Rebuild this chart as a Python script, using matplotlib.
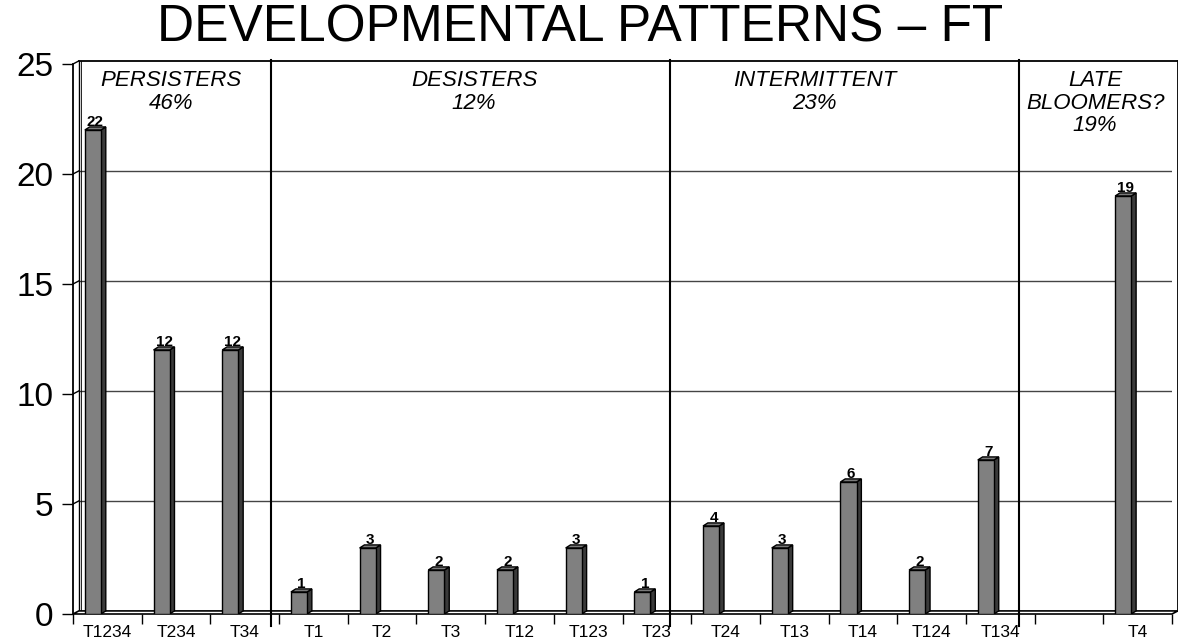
import numpy as np
import matplotlib.pyplot as plt
from matplotlib.patches import Polygon, Rectangle

plt.rcParams['font.family'] = ['Liberation Sans', 'DejaVu Sans']

# counts per pattern (slot 14 is an empty spacer)
patterns = ['T1234', 'T234', 'T34', 'T1', 'T2', 'T3', 'T12', 'T123', 'T23',
            'T24', 'T13', 'T14', 'T124', 'T134', '', 'T4']
counts = [22, 12, 12, 1, 3, 2, 2, 3, 1, 4, 3, 6, 2, 7, None, 19]

groups = ['PERSISTERS\n46%', 'DESISTERS\n12%', 'INTERMITTENT\n23%',
          'LATE\nBLOOMERS?\n19%']
group_x = [0.93, 5.34, 10.30, 14.38]
dividers = [2.38, 8.19, 13.27]

W, H = 1178, 643
fig = plt.figure(figsize=(W / 100, H / 100), dpi=100)
ax = fig.add_axes([73 / W, 29 / H, 1099 / W, 550 / H])
x0, x1 = -0.5, 15.5
ax.set_xlim(x0, x1)
ax.set_ylim(0, 25)

# 3d depth of the wall and of the bars, in data units
wdx, wdy = 0.085, 0.14
bdx, bdy = 0.07, 0.14
bw = 0.235
off = -0.21

for s in ax.spines.values():
    s.set_visible(False)

# back wall grid + side wall diagonals
for g in [5, 10, 15, 20]:
    ax.plot([x0 + wdx, x1 + wdx], [g + wdy, g + wdy], color='#444444', lw=1, zorder=1)
    ax.plot([x0, x0 + wdx], [g, g + wdy], color='black', lw=1, zorder=1)
ax.plot([x0 + wdx, x1 + wdx], [25 + wdy, 25 + wdy], color='black', lw=1.3, zorder=1, clip_on=False)
ax.plot([x1 + wdx, x1 + wdx], [wdy, 25 + wdy], color='black', lw=1.3, zorder=1, clip_on=False)
ax.plot([x0 + wdx, x0 + wdx], [wdy, 25 + wdy], color='black', lw=1, zorder=1, clip_on=False)
ax.plot([x0 + wdx * 1.4, x0 + wdx * 1.4], [wdy, 25 + wdy], color='black', lw=0.6, zorder=1, clip_on=False)
ax.plot([x0, x0 + wdx], [25, 25 + wdy], color='black', lw=1, zorder=1, clip_on=False)

# floor
ax.add_patch(Polygon([(x0, 0), (x1, 0), (x1 + wdx, wdy), (x0 + wdx, wdy)],
                     closed=True, facecolor='white', edgecolor='black', lw=1.2,
                     zorder=2, clip_on=False))
ax.plot([x0, x0], [0, 25], color='black', lw=1.3, zorder=5, clip_on=False)

for i, v in enumerate(counts):
    if v is None:
        continue
    xc = i + off
    l, r = xc - bw / 2, xc + bw / 2
    ax.add_patch(Polygon([(r, 0), (r + bdx, bdy), (r + bdx, v + bdy), (r, v)],
                         closed=True, facecolor='#3a3a3a', edgecolor='black', lw=1, zorder=3))
    ax.add_patch(Polygon([(l, v), (l + bdx, v + bdy), (r + bdx, v + bdy), (r, v)],
                         closed=True, facecolor='#7a7a7a', edgecolor='black', lw=1, zorder=3))
    ax.add_patch(Rectangle((l, 0), bw, v, facecolor='#808080', edgecolor='black',
                           lw=1, zorder=4))
    ax.text(xc + bdx / 2, v + bdy + 0.03, str(v), ha='center', va='baseline',
            fontsize=11, fontweight='bold', zorder=6)

for d in dividers:
    ax.plot([d, d], [-0.55, 25.2], color='black', lw=1.5, zorder=5, clip_on=False)

for t, gx in zip(groups, group_x):
    ax.text(gx, 24.72, t, ha='center', va='top', fontsize=16, style='italic',
            linespacing=1.1, zorder=6)

ax.set_yticks([0, 5, 10, 15, 20, 25])
ax.tick_params(axis='y', direction='out', length=8, width=1, labelsize=24, pad=6)
ax.set_xticks(np.arange(x0, x1 + 1, 1))
ax.set_xticklabels([])
ax.set_xticks(np.arange(len(patterns)), labels=patterns, minor=True)
ax.tick_params(axis='x', which='major', direction='out', length=7, width=1)
ax.tick_params(axis='x', which='minor', length=0, labelsize=12.5, pad=8)

fig.text(580 / W, 1 - 41 / H, 'DEVELOPMENTAL PATTERNS \u2013 FT', ha='center',
         va='baseline', fontsize=37)

fig.savefig('out.png', dpi=100)
